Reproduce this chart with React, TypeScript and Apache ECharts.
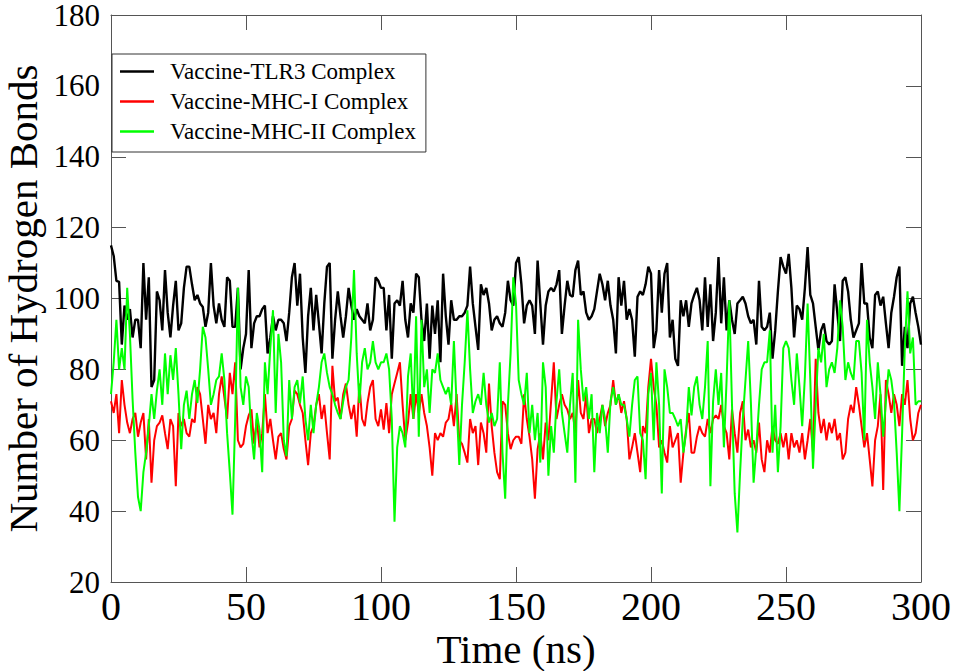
import React, { useEffect, useRef } from "react";
import * as echarts from "echarts";

const SERIES_NAMES = ["Vaccine-TLR3 Complex", "Vaccine-MHC-I Complex", "Vaccine-MHC-II Complex"];
const SERIES_COLORS = ["#000000", "#ff0000", "#00ff00"];

const X_TICKS = [0, 50, 100, 150, 200, 250, 300];
const Y_TICKS = [20, 40, 60, 80, 100, 120, 140, 160, 180];

// Number of hydrogen bonds, sampled every 1 ns from 0 to 300 ns
const TLR3 = [
  115, 112, 105, 104.7, 87, 98, 94, 97, 89, 94, 94, 86, 110, 94, 106, 75, 77, 102, 99.5, 91,
  108, 96, 89, 98, 105, 91, 93, 103, 109, 109, 104, 99.5, 101, 98.6, 97.6, 92, 96, 110, 98, 93,
  98.6, 94, 92, 106, 105, 92, 92, 103, 80, 86, 90,
  108, 86, 93, 95, 95, 97, 98, 84.5, 89, 95, 91, 94, 94, 93, 88, 96, 106, 110, 98, 107,
  89, 79, 95, 103, 91, 101, 93, 84.5, 98.6, 109, 110, 83, 94, 102, 95, 89, 95, 103, 98, 94,
  97, 95, 94, 93, 98.6, 91, 94, 106, 105, 103,
  103, 91, 101, 83, 98.6, 99.5, 98, 105, 94, 89, 98.6, 96, 107, 106, 94, 88, 98.6, 83, 98, 90,
  99.5, 82, 107, 95, 87, 99.5, 94, 94, 95, 95, 96, 98, 109, 98.6, 92, 85.5, 104, 101, 103, 98.6,
  91, 94, 95, 93, 92, 96, 105, 99.5, 98, 110,
  111.7, 104, 93, 98, 99.5, 98, 90, 110.7, 98.6, 87, 98, 102, 103, 102, 104, 108, 90, 98, 105, 101,
  100.5, 108, 110.7, 101, 102, 96, 94, 95, 97, 102, 107, 104, 99.5, 105, 98, 94, 84.5, 106, 98, 105,
  94, 97, 94, 83.6, 100.5, 102, 101, 104, 109, 107,
  86, 91, 108, 96, 107, 110, 89, 94, 83, 81, 99.5, 95, 99.5, 92, 98.6, 101, 103, 99.5, 91, 106,
  92, 104, 88, 96, 111.7, 93, 106, 91, 99.5, 94, 90, 98.6, 99.5, 100.5, 98.6, 95, 93, 94, 87, 105,
  92, 91, 92, 96, 83, 91, 102, 111.7, 109, 107,
  112.6, 103, 89, 98, 97, 94, 103, 114.5, 101, 98.6, 92, 85.5, 91, 93, 88, 87, 88, 104, 96, 88,
  105, 106, 102, 94, 89, 91, 93, 110, 98.6, 98.6, 89, 86, 101, 102, 98, 100.5, 93, 86, 96, 100.5,
  106, 109, 81, 92, 86, 98.6, 100.5, 96, 92, 87,
];

const MHC1 = [
  71, 67.7, 73, 62, 77, 70, 65, 62, 66, 67.7, 61, 65, 67.7, 54.6, 66, 48, 60, 64, 65, 67,
  62, 57.5, 66, 64, 47, 67.7, 64, 66, 62, 61, 66, 65, 75, 73, 66, 59, 70, 66, 67.7, 62,
  73, 78, 72, 66, 79, 73, 82, 60, 58, 59, 64,
  67, 68.7, 59, 66, 58, 62, 73, 62, 66, 60, 54.6, 61, 62, 57.5, 54.6, 64, 66, 74, 73, 70,
  67.7, 60, 53, 62, 64, 70, 73, 66, 70, 62, 54.6, 81, 71, 72, 66, 73, 76, 70, 66, 70,
  61, 76, 66, 64, 70.5, 75, 77, 66, 64, 68.7,
  63, 70.5, 62, 73, 76, 79, 82, 70, 60, 65, 73, 66, 73, 67.7, 73, 67.7, 64, 58, 50, 62,
  60, 62, 61, 65, 66, 70.5, 64, 73, 60, 59, 56.5, 53.7, 66, 62, 64, 53, 65, 62, 56.5, 76,
  64, 56.5, 51, 49, 71, 70, 62, 57.5, 60, 61,
  61, 59, 73, 66, 61, 54.6, 43.5, 57.5, 62, 54.6, 65, 60, 71, 82, 66, 70, 73, 70, 68.7, 66,
  67.7, 62, 77, 67.7, 66, 73, 62, 66, 66, 62, 66, 70, 64, 67.7, 70, 77, 70, 73, 67.7, 71,
  66, 54.6, 58, 62, 56.5, 51, 64, 62, 75, 83,
  75, 70, 58, 60, 56.5, 53.7, 64, 58, 60, 62, 48, 56.5, 63, 67.7, 56.5, 56.5, 61, 64, 62, 61,
  66, 62, 66, 67, 66, 70, 64, 62, 54.6, 68.7, 62, 56.5, 67.7, 71, 60, 63, 58, 60, 56.5, 65,
  54.6, 51, 60, 56.5, 64, 60, 59, 62, 58, 62,
  54.6, 62, 58, 60, 56.5, 62, 54.6, 60, 66, 56.5, 83, 67.7, 62, 66, 60, 65, 62, 66, 60, 62,
  54.6, 56.5, 66, 70, 67.7, 75, 70, 64, 58, 62, 54.6, 47, 60, 64, 73, 46, 77, 73, 67.7, 73,
  70, 64, 73, 70, 77, 66, 60, 62, 67.7, 70,
];

const MHC2 = [
  73, 82, 94, 80, 86, 80, 103, 90, 71.5, 56.5, 44, 40, 51, 56.5, 64, 73, 66, 74, 80, 70,
  84.5, 73, 84, 77, 86, 73, 57.5, 70, 74, 66, 73, 77, 70.5, 80, 92, 89, 80, 70, 73, 77,
  78, 84.5, 77, 62, 51, 39, 66, 103, 75, 70, 78,
  75, 62, 54.6, 67.7, 63, 51, 82, 73, 86, 96.7, 67.7, 90, 82, 60, 55.5, 77, 66, 75, 77, 70.5,
  78, 66, 60, 70, 62, 70, 75, 82, 84.5, 79, 75, 73, 70, 67.7, 66, 71, 75, 77, 89, 108,
  84.5, 70.5, 82, 86, 80, 82, 88, 82, 80, 82,
  82, 84.5, 80, 66, 37, 58, 64, 62, 58, 78, 84.5, 66, 95, 61, 94, 75, 80, 67.7, 80, 79,
  84.5, 77, 75, 73, 75, 70, 88, 70, 53, 70, 82, 96.7, 80, 67.7, 71, 73, 70, 79, 70, 65,
  67.7, 64, 66, 82, 56.5, 43.5, 70, 84.5, 106, 98.6,
  77, 73, 70, 79, 62, 70, 60, 67.7, 53.7, 82, 75, 50, 64, 56.5, 71, 80, 67.7, 62, 56.5, 70,
  79, 48, 94, 80, 71, 75, 66, 73, 51, 67.7, 62, 70, 66, 56.5, 71, 75, 70, 73, 70, 70,
  66, 61, 70, 77, 78, 62, 60, 49, 73, 79,
  60, 82, 70, 45, 80, 75, 67.7, 67.7, 66, 64, 66, 56.5, 62, 75, 67, 75, 78, 70, 66, 75,
  88, 47, 71, 80, 70, 79, 58, 77, 99.5, 70, 45, 34, 51, 66, 77, 88, 70.5, 48, 58, 70,
  80, 82, 82, 91, 56.5, 70, 51, 64, 86, 88,
  86, 77, 70, 84.5, 75, 64, 78, 98.6, 77, 52, 70, 86, 82, 90, 75, 80, 82, 79, 86, 99.5,
  92, 77, 82, 79, 77, 88, 88, 79, 60, 94, 82, 75, 66, 82, 73, 61, 71, 80, 77, 71,
  56.5, 40, 62, 86, 102, 84.5, 89, 70, 71, 71,
];

const TIME_STEP_NS = 1;
const TIMES = TLR3.map((_, i) => i * TIME_STEP_NS);

const FONT = "Liberation Serif, Times New Roman, serif";
const AXIS_COLOR = "#555";

export default function App() {
  const ref = useRef<HTMLDivElement>(null);

  useEffect(() => {
    if (!ref.current) return;
    const chart = echarts.init(ref.current, undefined, { renderer: "svg" });
    const allSeries = [TLR3, MHC1, MHC2];

    const axisCommon = {
      axisLine: { show: true, onZero: false, lineStyle: { color: AXIS_COLOR, width: 1 } },
      axisTick: { show: true, inside: true, length: 15, lineStyle: { color: AXIS_COLOR, width: 1 } },
      splitLine: { show: false },
    };

    chart.setOption({
      animation: false,
      backgroundColor: "#ffffff",
      textStyle: { fontFamily: FONT },
      grid: {
        left: 111,
        right: 36,
        top: 15,
        bottom: 89,
        containLabel: false,
        outerBoundsMode: "none",
      },
      legend: {
        orient: "vertical",
        left: 112,
        top: 54,
        data: SERIES_NAMES,
        icon: "rect",
        itemWidth: 34,
        itemHeight: 2.5,
        itemGap: 7,
        backgroundColor: "#ffffff",
        borderColor: "#333",
        borderWidth: 1,
        borderRadius: 0,
        padding: [6, 10, 9, 8],
        textStyle: {
          fontFamily: FONT,
          fontSize: 23,
          lineHeight: 22,
          color: "#000",
          padding: [0, 0, 0, 11],
        },
      },
      xAxis: [
        {
          type: "value",
          position: "bottom",
          min: X_TICKS[0],
          max: X_TICKS[X_TICKS.length - 1],
          interval: 50,
          ...axisCommon,
          axisLabel: { fontFamily: FONT, fontSize: 40, lineHeight: 36, color: "#000", margin: 6 },
          name: "Time (ns)",
          nameLocation: "middle",
          nameGap: 47,
          nameMoveOverlap: false,
          nameTextStyle: { fontFamily: FONT, fontSize: 41, lineHeight: 40, color: "#000" },
        },
        {
          type: "value",
          position: "top",
          min: X_TICKS[0],
          max: X_TICKS[X_TICKS.length - 1],
          interval: 50,
          ...axisCommon,
          axisLabel: { show: false },
        },
      ],
      yAxis: [
        {
          type: "value",
          position: "left",
          min: Y_TICKS[0],
          max: Y_TICKS[Y_TICKS.length - 1],
          interval: 20,
          ...axisCommon,
          axisLabel: { fontFamily: FONT, fontSize: 31, lineHeight: 24, color: "#000", margin: 11 },
          name: "Number of Hydrogen Bonds",
          nameLocation: "middle",
          nameGap: 73,
          nameMoveOverlap: false,
          nameTextStyle: { fontFamily: FONT, fontSize: 41, lineHeight: 30, color: "#000" },
        },
        {
          type: "value",
          position: "right",
          min: Y_TICKS[0],
          max: Y_TICKS[Y_TICKS.length - 1],
          interval: 20,
          ...axisCommon,
          axisLabel: { show: false },
        },
      ],
      series: SERIES_NAMES.map((name, k) => ({
        name,
        type: "line",
        xAxisIndex: 0,
        yAxisIndex: 0,
        showSymbol: false,
        symbol: "none",
        color: SERIES_COLORS[k],
        lineStyle: { color: SERIES_COLORS[k], width: k === 0 ? 2.4 : 2 },
        data: allSeries[k].map((v, i) => [TIMES[i], v]),
        z: 2 + k,
      })),
    });

    return () => chart.dispose();
  }, []);

  return (
    <div
      ref={ref}
      style={{ position: "fixed", left: 0, top: 0, width: 957, height: 671, background: "#fff" }}
    />
  );
}
